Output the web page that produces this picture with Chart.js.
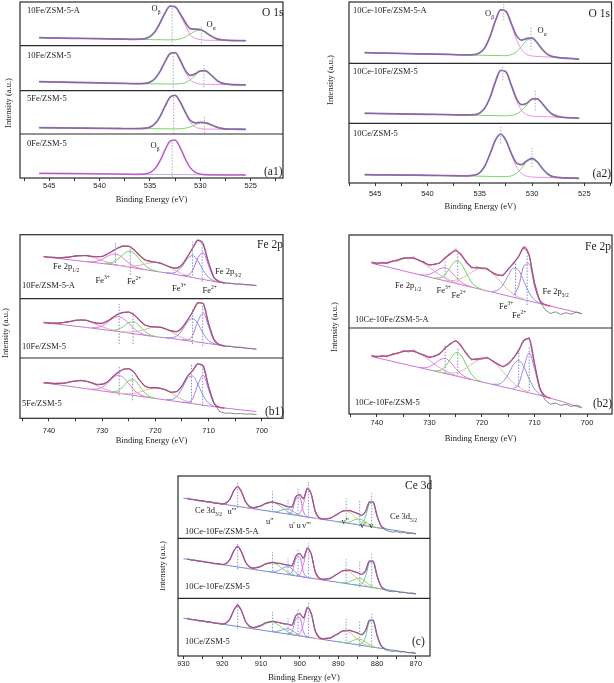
<!DOCTYPE html>
<html>
<head>
<meta charset="utf-8">
<script src="https://cdn.jsdelivr.net/npm/chart.js@4.4.1/dist/chart.umd.min.js"></script>
<style>
html, body { margin: 0; padding: 0; background: #fff; }
#wrap { position: relative; width: 614px; height: 683px; overflow: hidden; }
canvas { position: absolute; left: 0; top: 0; }
.t { position: absolute; font-family: 'Liberation Serif', serif; font-size: 8.5px; color: #222; white-space: nowrap; line-height: 1; }
.big { font-size: 11.5px; }
.t sub, .t sup { font-size: 5.5px; line-height: 0; }
.yl { position: absolute; font-family: 'Liberation Serif', serif; font-size: 8.5px; color: #222; white-space: nowrap; transform: translate(-50%, -50%) rotate(-90deg); }
#clipC { position: absolute; left: 160px; top: 460px; width: 454px; height: 223px; overflow: hidden; }
</style>
</head>
<body>
<div id="wrap">
<canvas id="cA1" width="614" height="683"></canvas>
<canvas id="cA2" width="614" height="683"></canvas>
<canvas id="cB1" width="614" height="683"></canvas>
<canvas id="cB2" width="614" height="683"></canvas>
<canvas id="cC" width="614" height="683"></canvas>

<!-- a1 -->
<div class="t" style="left:27px;top:5.7px">10Fe/ZSM-5-A</div>
<div class="t" style="left:27px;top:50.7px">10Fe/ZSM-5</div>
<div class="t" style="left:27px;top:94px">5Fe/ZSM-5</div>
<div class="t" style="left:27px;top:139px">0Fe/ZSM-5</div>
<div class="t big" style="left:262px;top:6.5px">O 1s</div>
<div class="t" style="left:151.5px;top:4px">O<sub>β</sub></div>
<div class="t" style="left:206.5px;top:19.7px">O<sub>α</sub></div>
<div class="t" style="left:150.5px;top:140.7px">O<sub>β</sub></div>
<div class="t big" style="left:264px;top:166px">(a1)</div>
<div class="yl" style="left:8px;top:103px">Intensity (a.u.)</div>

<!-- a2 -->
<div class="t" style="left:353px;top:5.7px">10Ce-10Fe/ZSM-5-A</div>
<div class="t" style="left:353px;top:66.7px">10Ce-10Fe/ZSM-5</div>
<div class="t" style="left:353px;top:129px">10Ce/ZSM-5</div>
<div class="t big" style="left:588.5px;top:7.5px">O 1s</div>
<div class="t" style="left:485px;top:9px">O<sub>β</sub></div>
<div class="t" style="left:537.5px;top:25.7px">O<sub>α</sub></div>
<div class="t big" style="left:592.5px;top:167.5px">(a2)</div>
<div class="yl" style="left:330px;top:80px">Intensity (a.u.)</div>

<!-- b1 -->
<div class="t big" style="left:257px;top:239.2px">Fe 2p</div>
<div class="t" style="left:53px;top:262.4px">Fe 2p<sub>1/2</sub></div>
<div class="t" style="left:95.5px;top:275.7px">Fe<sup>3+</sup></div>
<div class="t" style="left:127px;top:277.4px">Fe<sup>2+</sup></div>
<div class="t" style="left:172px;top:284px">Fe<sup>3+</sup></div>
<div class="t" style="left:202.5px;top:286.4px">Fe<sup>2+</sup></div>
<div class="t" style="left:215px;top:267.4px">Fe 2p<sub>3/2</sub></div>
<div class="t" style="left:22px;top:280.7px">10Fe/ZSM-5-A</div>
<div class="t" style="left:22px;top:342.4px">10Fe/ZSM-5</div>
<div class="t" style="left:22px;top:399px">5Fe/ZSM-5</div>
<div class="t big" style="left:265px;top:406px">(b1)</div>
<div class="yl" style="left:5px;top:333px">Intensity (a.u.)</div>

<!-- b2 -->
<div class="t big" style="left:585px;top:241px">Fe 2p</div>
<div class="t" style="left:395px;top:280.7px">Fe 2p<sub>1/2</sub></div>
<div class="t" style="left:436.5px;top:285.7px">Fe<sup>3+</sup></div>
<div class="t" style="left:451.5px;top:290.7px">Fe<sup>2+</sup></div>
<div class="t" style="left:499px;top:301.7px">Fe<sup>3+</sup></div>
<div class="t" style="left:512px;top:310.7px">Fe<sup>2+</sup></div>
<div class="t" style="left:542.5px;top:287.4px">Fe 2p<sub>3/2</sub></div>
<div class="t" style="left:355px;top:315px">10Ce-10Fe/ZSM-5-A</div>
<div class="t" style="left:355px;top:398.4px">10Ce-10Fe/ZSM-5</div>
<div class="t big" style="left:593px;top:397.5px">(b2)</div>
<div class="yl" style="left:334px;top:327px">Intensity (a.u.)</div>

<!-- c -->
<div class="t big" style="left:405px;top:480.2px">Ce 3d</div>
<div class="t" style="left:195px;top:505.7px">Ce 3d<sub>3/2</sub></div>
<div class="t" style="left:227.5px;top:507.4px">u'''</div>
<div class="t" style="left:266px;top:517.4px">u''</div>
<div class="t" style="left:289px;top:520.7px">u'</div>
<div class="t" style="left:296.5px;top:520.7px">u</div>
<div class="t" style="left:302px;top:520.7px">v'''</div>
<div class="t" style="left:341.5px;top:517.4px">v''</div>
<div class="t" style="left:360px;top:520.7px">v'</div>
<div class="t" style="left:369px;top:520.7px">v</div>
<div class="t" style="left:390px;top:512.4px">Ce 3d<sub>5/2</sub></div>
<div class="t" style="left:185px;top:527.4px">10Ce-10Fe/ZSM-5-A</div>
<div class="t" style="left:185px;top:581.7px">10Ce-10Fe/ZSM-5</div>
<div class="t" style="left:185px;top:637.4px">10Ce/ZSM-5</div>
<div class="t big" style="left:412px;top:636px">(c)</div>
<div id="clipC"><div class="yl" style="left:2px;top:106px">Intensity (a.u.)</div></div>
</div>

<script>
// ---------- O 1s (binding energy grid, eV) ----------
const oE = [546, 544, 542, 540, 538, 536.5, 535.5, 535, 534.5, 534, 533.5, 533, 532.5, 532, 531.5, 531, 530.5, 530, 529.5, 529, 528.5, 528, 527, 526, 525.5];

// a1: 10Fe/ZSM-5-A, 10Fe/ZSM-5, 5Fe/ZSM-5, 0Fe/ZSM-5
const a1Fit1 = [8, 7.6, 7.3, 7, 6.7, 6.4, 7.1, 9.2, 14.1, 22.8, 32.9, 39.6, 38.9, 31.8, 23.5, 17.0, 16.5, 16.1, 13.5, 10.1, 7.4, 6.0, 5.2, 5.1, 5];
const a1Ob1 = [8, 7.6, 7.3, 7, 6.7, 6.4, 7.1, 9.2, 14.1, 22.8, 32.9, 39.6, 38.8, 30.7, 20.5, 10.9, 7.4, 6.2, 5.5, 5.4, 5.3, 5.3, 5.2, 5.1, 5];
const a1Oa1 = [8, 7.6, 7.3, 7, 6.7, 6.4, 6.2, 6.1, 6, 6, 5.9, 5.8, 5.9, 6.8, 8.7, 11.7, 14.7, 15.4, 13.4, 10.1, 7.4, 6.0, 5.2, 5.1, 5];
const a1Fit2 = [9, 8.6, 8.2, 7.8, 7.4, 7.0, 7.3, 8.6, 12.1, 19.3, 29.1, 37.1, 38.0, 30.4, 20.5, 15.3, 16.8, 19.8, 19.95, 16.3, 11.45, 8.1, 6.2, 5.9, 5.7];
const a1Ob2 = [9, 8.6, 8.2, 7.8, 7.4, 7.0, 7.3, 8.6, 12.1, 19.3, 29.1, 37.1, 38.0, 30.0, 19.0, 11.0, 7.8, 6.6, 6.35, 6.3, 6.25, 6.2, 6.1, 5.9, 5.7];
const a1Oa2 = [9, 8.6, 8.2, 7.8, 7.4, 7.0, 6.95, 6.9, 6.85, 6.8, 6.75, 6.7, 6.65, 7.0, 8.05, 10.8, 15.45, 19.6, 19.95, 16.3, 11.45, 8.1, 6.2, 5.9, 5.7];
const a1Fit3 = [6.3, 6.1, 5.9, 5.7, 5.5, 5.4, 5.75, 6.9, 10.3, 17.55, 27.8, 36.8, 38.55, 32.0, 22.0, 13.55, 11.2, 11.6, 11.25, 9.5, 7.3, 5.75, 4.8, 4.75, 4.7];
const a1Ob3 = [6.3, 6.1, 5.9, 5.7, 5.5, 5.4, 5.75, 6.9, 10.3, 17.55, 27.8, 36.8, 38.55, 31.8, 21.3, 11.55, 7.0, 5.5, 4.95, 4.9, 4.9, 4.85, 4.8, 4.75, 4.7];
const a1Oa3 = [6.3, 6.1, 5.9, 5.7, 5.5, 5.4, 5.35, 5.3, 5.3, 5.25, 5.2, 5.2, 5.15, 5.3, 5.8, 7.05, 9.2, 11.1, 11.25, 9.5, 7.3, 5.75, 4.8, 4.75, 4.7];
const a1Ob4 = [4.7, 4.5, 4.3, 4.1, 3.9, 3.7, 4.0, 5.5, 9.35, 17.25, 28.1, 36.85, 37.8, 30.2, 19.15, 10.3, 5.7, 3.85, 3.3, 3.2, 3.15, 3.1, 3.1, 3.05, 3];
const a1Base4 = [[536.5, 3.7], [525.5, 3.0]];

// a2: 10Ce-10Fe/ZSM-5-A, 10Ce-10Fe/ZSM-5, 10Ce/ZSM-5
const a2Fit1 = [10.6, 10.1, 9.7, 9.3, 8.9, 8.4, 8.7, 10.5, 15.9, 27.2, 42.6, 53.5, 52.1, 40.3, 27.9, 23.2, 24.8, 25.3, 20.4, 13.6, 8.7, 6.6, 5.3, 4.6, 4.0];
const a2Ob1 = [10.6, 10.1, 9.7, 9.3, 8.9, 8.4, 8.7, 10.5, 15.9, 27.2, 42.6, 53.5, 52.1, 39.2, 24.0, 13.7, 8.9, 7.4, 6.8, 6.6, 6.3, 6.0, 5.3, 4.6, 4.0];
const a2Oa1 = [10.6, 10.1, 9.7, 9.3, 8.9, 8.4, 8.2, 8.1, 8.0, 7.9, 7.8, 7.7, 7.6, 8.6, 11.3, 16.8, 23.0, 24.9, 20.4, 13.6, 8.7, 6.6, 5.3, 4.6, 4.0];
const a2Fit2 = [10, 9.6, 9.3, 9.0, 8.7, 8.3, 8.6, 10.3, 15.5, 26.3, 41.7, 52.9, 51.5, 38.7, 25.0, 18.6, 20.1, 24.2, 24.4, 19.5, 13.2, 8.7, 5.9, 5.4, 5.0];
const a2Ob2 = [10, 9.6, 9.3, 9.0, 8.7, 8.3, 8.6, 10.3, 15.5, 26.3, 41.7, 52.9, 51.5, 38.2, 23.1, 13.0, 8.6, 7.3, 6.9, 6.7, 6.5, 6.3, 5.8, 5.4, 5.0];
const a2Oa2 = [10, 9.6, 9.3, 9.0, 8.7, 8.3, 8.1, 8.0, 7.9, 7.8, 7.7, 7.6, 7.5, 7.9, 9.2, 12.8, 18.6, 23.9, 24.4, 19.5, 13.2, 8.7, 5.9, 5.4, 5.0];
const a2Fit3 = [8.3, 8.1, 7.9, 7.7, 7.4, 7.1, 7.8, 10.4, 17.3, 29.6, 42.9, 48.9, 42.7, 30.1, 20.2, 18.4, 22.2, 24.5, 21.1, 14.4, 9.0, 6.3, 5.2, 4.9, 4.7];
const a2Ob3 = [8.3, 8.1, 7.9, 7.7, 7.4, 7.1, 7.8, 10.4, 17.3, 29.6, 42.9, 48.9, 42.7, 29.2, 16.7, 9.6, 6.8, 6.0, 5.7, 5.6, 5.5, 5.4, 5.2, 4.9, 4.7];
const a2Oa3 = [8.3, 8.1, 7.9, 7.7, 7.4, 7.1, 6.9, 6.8, 6.7, 6.6, 6.5, 6.4, 6.3, 7.1, 9.6, 14.8, 21.3, 24.3, 21.1, 14.4, 9.0, 6.3, 5.2, 4.9, 4.7];

// ---------- Fe 2p ----------
const feE = [741, 740, 739, 738, 737, 736, 735, 734, 733, 732, 731, 730, 729, 728, 727, 726, 725, 724, 723, 722, 721, 720, 719, 718, 717, 716, 715, 714, 713, 712, 711, 710, 709, 708, 707, 706, 705, 704, 703, 702, 701];

// b1 top: 10Fe/ZSM-5-A
const b1Data1 = [42.4, 41.2, 41.6, 40.6, 41.5, 41.5, 43.0, 42.8, 43.5, 42.1, 42.3, 42.0, 45.0, 47.5, 51.0, 52.4, 52.8, 48.6, 43.8, 38.8, 37.6, 36.3, 35.7, 33.2, 31.5, 30.8, 33.5, 41.9, 50.2, 58.8, 54.5, 36.4, 21.2, 17.4, 15.4, 15.6, 14.6, 14.9, 14.0, 13.8, 13.1];
const b1Fit1 = [42, 41.5, 41.1, 40.9, 41.2, 41.8, 42.7, 43.1, 43.1, 42.4, 41.9, 42.3, 44.7, 47.8, 50.7, 52.7, 52.3, 49.0, 43.4, 39.1, 37.2, 36.6, 35.4, 33.4, 31.1, 30.5, 33.9, 41.6, 50.6, 58.5, 54.8, 36.1, 21.5, 17.1, 15.9];
const b1Base1 = [[741, 42], [737, 39.5], [733, 37], [727, 33.4], [722, 29], [717, 25], [713, 21.2], [708.5, 16.7], [705, 14.8], [701, 13.2]];
const b1Sat1a = [[740, 41.5], [738, 40.9], [736, 41.8], [735, 42.7], [734, 43.1], [733, 43.0], [732, 41.9], [731, 40.2], [730, 38.1], [728, 34.8], [726, 32.6]];
const b1Fe3b1 = [[733, 37.1], [732, 36.9], [731, 37.5], [730, 39.4], [729, 42.4], [728, 44.6], [727, 44.0], [726, 40.3], [725, 35.8], [724, 32.5], [723, 30.4], [722, 29.1]];
const b1Fe2b1 = [[729.5, 35.2], [728, 36.4], [727, 39.8], [726, 44.5], [725, 47.4], [724, 45.5], [723, 39.6], [722, 33.5], [721, 29.7], [719.5, 27.1]];
const b1Sat2a = [[726, 32.8], [725, 32.4], [724, 32.6], [723, 33.3], [722, 34.5], [721, 35.7], [720, 36.2], [719, 35.4], [718, 33.3], [717, 30.5], [716, 27.5], [715, 24.9], [714, 23.0], [713, 21.5]];
const b1Fe3a1 = [[718, 25.9], [717, 25.6], [716, 27.1], [715, 32.1], [714, 39.8], [713, 43.2], [712, 37.8], [711, 28.3], [710, 21.3], [709, 17.9], [708, 16.5]];
const b1Fe2a1 = [[715, 23.1], [714, 23.2], [713, 28.3], [712, 40.9], [711, 45.9], [710, 33.2], [709, 20.9], [708, 16.8], [707, 15.9]];

// b1 middle: 10Fe/ZSM-5
const b1Data2 = [35.6, 34.6, 35.1, 34.7, 35.9, 36.4, 37.9, 37.8, 37.9, 35.8, 34.9, 34.5, 37.3, 40.3, 44.1, 45.4, 46.2, 42.9, 38.2, 32.9, 31.7, 30.9, 31.0, 28.7, 27.3, 26.1, 30.3, 37.4, 46.2, 55.0, 54.8, 34.5, 18.9, 13.2, 11.4, 11.8, 10.6, 10.9, 9.8, 9.6, 8.8];
const b1Fit2 = [35.5, 35.0, 34.8, 35.0, 35.6, 36.6, 37.6, 38.1, 37.6, 36.1, 34.7, 34.8, 37.0, 40.6, 43.8, 45.7, 45.9, 43.2, 37.8, 33.2, 31.4, 31.2, 30.7, 29.0, 27.0, 26.4, 30.0, 37.7, 45.9, 55.3, 54.5, 34.8, 18.5, 13.5, 12.3];
const b1Base2 = [[741, 35.4], [733, 30.6], [727, 26.5], [721, 22], [717, 19.5], [713, 16.6], [710, 14.4], [708, 13], [705, 11], [701, 8.8]];
const b1Sat1b = [[740, 35.0], [738, 35.0], [736, 36.6], [735, 37.6], [734, 38.1], [733, 37.5], [732, 35.7], [731, 33.4], [730, 31.2], [728, 27.8], [726, 25.8]];
const b1Fe3b2 = [[732, 30.3], [731, 30.5], [730, 32.2], [729, 35.6], [728, 39.5], [727, 41.4], [726, 39.4], [725, 34.6], [724, 29.3], [723, 25.5], [722, 23.3], [721, 22.1]];
const b1Fe2b2 = [[728, 27.7], [727, 28.6], [726, 31.5], [725, 35.4], [724, 36.1], [723, 32.2], [722, 26.8], [721, 23.2], [720, 21.6]];
const b1Sat2b = [[727, 26.6], [726, 26.1], [725, 25.9], [724, 26.2], [723, 27.1], [722, 28.5], [721, 30.1], [720, 31.0], [719, 30.7], [718, 28.9], [717, 26.3], [716, 23.3], [715, 20.5], [714, 18.6], [713, 17.1], [712, 16.1]];
const b1Fe3a2 = [[718, 20.2], [717, 20.2], [716, 21.9], [715, 27.5], [714, 35.7], [713, 39.6], [712, 34.3], [711, 24.6], [710, 17.5], [709, 14.4], [708, 13.1]];
const b1Fe2a2 = [[715, 18.0], [714, 18.0], [713, 22.4], [712, 36.7], [711, 45.0], [710, 31.7], [709, 17.8], [708, 13.4], [707, 12.3]];

// b1 bottom: 5Fe/ZSM-5
const b1Data3 = [35.2, 35.6, 34.4, 35.3, 35.0, 36.9, 37.0, 38.2, 36.8, 35.8, 33.5, 34.3, 36.3, 41.8, 45.6, 49.2, 49.3, 46.3, 38.1, 32.7, 30.3, 30.9, 29.6, 28.6, 25.8, 27.0, 32.2, 41.9, 47.5, 54.6, 52.2, 31.9, 15.8, 7.2, 5.0, 5.3, 4.5, 4.8, 4.1, 4.4, 3.7];
const b1Fit3 = [35.7, 35.15, 34.8, 34.85, 35.4, 36.45, 37.4, 37.75, 37.1, 35.45, 33.9, 33.85, 36.6, 41.45, 45.9, 48.85, 49.6, 45.95, 38.4, 32.35, 30.6, 30.55, 30.0, 28.25, 26.1, 26.65, 32.5, 41.55, 47.8, 54.35, 52.5, 31.7, 15.5, 11.2, 10.3];
const b1Base3 = [[741, 35.6], [733, 29.6], [727, 25.1], [721, 20.6], [717, 17.6], [713, 14.6], [710, 12.4], [708, 10.9], [704, 8.5], [701, 6.8]];
const b1Sat1c = [[740, 35.15], [738, 34.85], [736, 36.45], [735, 37.4], [734, 37.75], [733, 37.0], [732, 35.15], [731, 32.7], [730, 30.15], [728, 26.55], [726, 24.45]];
const b1Fe3b3 = [[732, 29.15], [731, 29.3], [730, 31.05], [729, 35.1], [728, 40.25], [727, 43.0], [726, 40.65], [725, 34.5], [724, 28.25], [723, 24.0], [722, 21.85], [721, 20.7]];
const b1Fe2b3 = [[728, 26.35], [727, 27.6], [726, 32.05], [725, 37.7], [724, 38.45], [723, 32.5], [722, 25.45], [721, 21.6], [720, 19.95]];
const b1Sat2c = [[727, 25.2], [726, 24.75], [725, 24.6], [724, 24.95], [723, 26.1], [722, 27.75], [721, 29.5], [720, 30.45], [719, 30.0], [718, 28.05], [717, 25.0], [716, 21.75], [715, 18.9], [714, 16.75], [713, 15.2], [712, 14.05]];
const b1Fe3a3 = [[718, 18.55], [717, 18.7], [716, 21.75], [715, 29.7], [714, 39.65], [713, 42.3], [712, 34.15], [711, 22.6], [710, 15.3], [709, 12.2], [708, 11.0]];
const b1Fe2a3 = [[715, 16.1], [714, 15.85], [713, 19.5], [712, 33.85], [711, 43.0], [710, 28.8], [709, 14.9], [708, 11.1], [707, 10.3]];

// b2 top: 10Ce-10Fe/ZSM-5-A
const b2Data1 = [66.2, 63.8, 65.9, 64.2, 67.5, 67.0, 70.4, 69.2, 71.0, 67.1, 66.2, 62.4, 64.3, 64.6, 71.0, 73.5, 79.2, 72.6, 67.1, 59.8, 61.2, 59.0, 60.1, 54.4, 53.7, 51.9, 59.5, 63.8, 72.4, 80.2, 73.4, 45.6, 26.8, 18.4, 14.5, 16.2, 13.6, 15.3, 13.8, 16.0, 14.2];
const b2Fit1 = [65.5, 64.9, 64.9, 65.4, 66.7, 68.2, 69.5, 70.3, 69.7, 68.0, 65.3, 63.3, 63.4, 65.5, 69.8, 74.6, 77.2, 73.7, 66.0, 61.0, 60.0, 60.1, 58.7, 55.6, 52.6, 53.2, 58.6, 65.0, 71.5, 81.1, 72.2, 44.5, 27.9, 23.4, 22.0];
const b2Base1 = [[741, 64.8], [725, 44.6], [709, 24.5], [701, 14.4]];
const b2Sat1a = [[741, 65.5], [739, 64.9], [737, 66.7], [735, 69.5], [734, 70.3], [733, 69.7], [732, 67.8], [731, 64.5], [729, 56.6], [727, 49.8], [725, 45.3], [723, 42.1]];
const b2Fe3b1 = [[732, 53.7], [731, 53.0], [730, 53.6], [729, 56.2], [728, 59.3], [727, 60.2], [726, 56.8], [725, 51.1], [724, 46.1], [723, 42.9], [722, 41.1]];
const b2Fe2b1 = [[729, 50.0], [728, 50.2], [727, 53.6], [726, 60.8], [725, 66.8], [724, 64.6], [723, 55.1], [722, 46.0], [721, 40.9], [720, 38.5]];
const b2Sat2a = [[727, 47.8], [726, 47.4], [725, 47.8], [724, 49.5], [723, 52.2], [722, 55.7], [721, 58.7], [720, 59.9], [719, 58.7], [718, 54.9], [717, 49.4], [716, 43.4], [715, 38.1], [714, 34.0], [713, 31.0], [712, 28.9]];
const b2Fe3a1 = [[718, 36.5], [717, 37.8], [716, 43.1], [715, 52.5], [714, 59.9], [713, 57.5], [712, 46.5], [711, 35.0], [710, 28.1], [709, 25.0], [708, 23.2]];
const b2Fe2a1 = [[714, 32.7], [713, 42.0], [712, 62.3], [711, 64.2], [710, 42.1], [709, 27.4], [708, 23.4], [707, 22.0]];

// b2 bottom: 10Ce-10Fe/ZSM-5
const b2Data2 = [58.9, 56.4, 58.8, 57.1, 60.4, 60.2, 63.5, 62.0, 64.1, 60.2, 59.4, 56.1, 58.5, 59.6, 66.8, 69.5, 74.0, 67.4, 61.5, 53.9, 55.6, 54.7, 57.0, 52.4, 50.6, 46.8, 50.8, 55.2, 64.5, 73.2, 76.4, 49.6, 25.4, 14.2, 9.8, 11.0, 8.6, 9.7, 7.5, 8.9, 6.7];
const b2Fit2 = [58.1, 57.6, 57.6, 58.2, 59.5, 61.1, 62.4, 63.2, 62.7, 61.0, 58.5, 57.0, 57.6, 60.8, 65.5, 70.4, 72.8, 68.7, 60.4, 55.2, 54.5, 55.8, 55.8, 53.4, 49.7, 47.6, 49.9, 56.3, 63.4, 74.0, 75.5, 50.8, 26.5, 18.2, 15.9];
const b2Base2 = [[741, 57.4], [709, 18.7], [705, 12.9], [701, 6.0]];
const b2Sat1b = [[741, 58.1], [739, 57.6], [737, 59.5], [735, 62.4], [734, 63.2], [733, 62.7], [732, 60.8], [731, 57.6], [729, 49.8], [727, 43.1], [725, 38.7], [723, 35.6]];
const b2Fe3b2 = [[732, 46.7], [731, 46.2], [730, 47.3], [729, 50.4], [728, 54.3], [727, 55.5], [726, 51.9], [725, 45.5], [724, 40.0], [723, 36.5], [722, 34.6]];
const b2Fe2b2 = [[729, 43.2], [728, 43.5], [727, 47.2], [726, 54.8], [725, 61.2], [724, 59.0], [723, 49.2], [722, 39.8], [721, 34.5], [720, 32.2]];
const b2Sat2b = [[728, 42.0], [727, 41.2], [726, 40.9], [725, 41.4], [724, 43.0], [723, 45.9], [722, 49.6], [721, 53.2], [720, 55.6], [719, 55.8], [718, 53.2], [717, 48.4], [716, 42.4], [715, 36.2], [714, 30.9], [713, 26.9], [712, 23.9], [711, 21.8]];
const b2Fe3a2 = [[718, 29.8], [717, 29.7], [716, 32.4], [715, 39.6], [714, 49.4], [713, 53.5], [712, 47.0], [711, 34.8], [710, 25.1], [709, 20.0], [708, 17.5]];
const b2Fe2a2 = [[714, 25.4], [713, 30.0], [712, 47.7], [711, 61.1], [710, 45.3], [709, 25.2], [708, 18.0], [707, 15.9]];

// ---------- Ce 3d ----------
const ceE = [929, 928, 927, 926, 925, 924, 923, 922, 921, 920, 919, 918, 917, 916, 915, 914, 913, 912, 911, 910, 909, 908, 907, 906, 905, 904, 903, 902, 901, 900, 899, 898, 897, 896, 895, 894, 893, 892, 891, 890, 889, 888, 887, 886, 885, 884, 883, 882, 881, 880, 879, 878, 877, 876, 875, 874, 873, 872, 871, 870];

// c top: 10Ce-10Fe/ZSM-5-A
const cData1 = [40.3, 38.6, 38.9, 37.2, 37.8, 36.1, 36.8, 35.0, 35.3, 34.0, 35.6, 38.7, 47.9, 51.6, 46.8, 36.2, 32.4, 30.2, 31.6, 32.0, 34.9, 35.3, 36.8, 34.9, 34.6, 32.5, 31.8, 30.8, 42.0, 43.3, 39.9, 49.8, 44.7, 27.0, 20.9, 18.9, 19.9, 19.8, 22.8, 24.3, 27.5, 27.4, 28.1, 25.9, 25.0, 22.6, 27.0, 36.1, 36.6, 21.8, 12.0, 8.6, 7.2, 6.1, 6.8, 5.5, 5.9, 4.6, 5.2, 4.1];
const cFit1 = [39.6, 39.1, 38.5, 37.9, 37.3, 36.7, 36.1, 35.5, 34.9, 34.5, 35.1, 39.2, 47.4, 52.0, 46.3, 36.9, 31.9, 30.7, 31.1, 32.5, 34.3, 35.8, 36.2, 35.4, 34.1, 33.0, 31.5, 31.4, 41.5, 43.8, 39.4, 50.2, 44.2, 27.3, 20.4, 19.5, 19.5, 20.4, 22.3, 24.8, 27.0, 27.9, 27.5, 26.4, 24.6, 23.0, 26.5, 36.5, 36.1, 22.4, 12.5, 9.7];
const cBase1 = [[930, 40.2], [870, 4.7]];
const cU3a = [[921, 34.9], [920, 34.5], [919, 35.1], [918, 39.2], [917, 47.4], [916, 52.0], [915, 46.3], [914, 36.9], [913, 31.6], [912, 29.8], [911, 29.0]];
const cU2a = [[914, 30.8], [913, 30.5], [912, 30.5], [911, 31.1], [910, 32.5], [909, 34.3], [908, 35.8], [907, 36.1], [906, 34.7], [905, 32.0], [904, 29.0], [903, 26.4], [902, 24.6], [901, 23.4], [900, 22.5]];
const cU1a = [[908, 27.2], [907, 26.7], [906, 26.8], [905, 27.6], [904, 28.9], [903, 29.3], [902, 27.7], [901, 25.2], [900, 23.2], [899, 22.0], [898, 21.3]];
const cU0a = [[903, 24.4], [902, 26.5], [901, 39.0], [900, 41.0], [899, 26.4], [898, 21.5], [897, 20.7]];
const cV3a = [[901, 23.2], [900, 24.6], [899, 34.8], [898, 50.0], [897, 44.2], [896, 27.3], [895, 20.4], [894, 19.1], [893, 18.4]];
const cV2a = [[896, 20.2], [895, 19.6], [894, 19.4], [893, 19.5], [892, 20.4], [891, 22.3], [890, 24.8], [889, 26.9], [888, 27.4], [887, 25.7], [886, 22.5], [885, 18.8], [884, 15.7], [883, 13.6], [882, 12.3], [881, 11.3]];
const cV1a = [[890, 16.6], [889, 16.1], [888, 15.9], [887, 16.6], [886, 18.2], [885, 19.4], [884, 18.8], [883, 16.4], [882, 13.7], [881, 11.8], [880, 10.8], [879, 10.1]];
const cV0a = [[886, 14.3], [885, 13.8], [884, 14.7], [883, 21.5], [882, 34.3], [881, 35.6], [880, 22.3], [879, 12.5], [878, 9.7], [877, 8.9]];

// c middle: 10Ce-10Fe/ZSM-5
const cData2 = [39.6, 38.1, 38.3, 36.8, 37.2, 35.6, 36.0, 34.3, 34.8, 33.4, 35.0, 38.4, 47.9, 51.8, 46.7, 36.0, 32.0, 29.8, 31.2, 31.6, 34.4, 34.8, 36.4, 34.8, 35.1, 33.5, 33.7, 31.9, 42.5, 44.5, 40.5, 49.8, 44.8, 26.6, 20.6, 18.6, 19.7, 19.6, 22.9, 24.6, 27.8, 27.7, 28.5, 26.4, 25.8, 23.5, 27.7, 37.0, 37.5, 21.9, 11.5, 8.3, 7.0, 6.6, 6.9, 5.6, 6.1, 5.0, 5.4, 4.6];
const cFit2 = [39.0, 38.5, 37.9, 37.3, 36.7, 36.1, 35.5, 34.9, 34.3, 33.9, 34.6, 38.9, 47.4, 52.2, 46.2, 36.6, 31.5, 30.3, 30.7, 32.0, 33.8, 35.3, 35.8, 35.3, 34.6, 34.0, 33.2, 32.4, 42.0, 45.0, 40.0, 50.3, 44.2, 27.0, 20.0, 19.1, 19.2, 20.2, 22.4, 25.0, 27.3, 28.2, 27.9, 26.9, 25.3, 24.0, 27.2, 37.4, 37.0, 22.5, 12.2, 9.2];
const cBase2 = [[930, 39.6], [870, 4.1]];
const cU3b = [[921, 34.3], [920, 33.9], [919, 34.6], [918, 38.8], [917, 47.0], [916, 51.9], [915, 46.0], [914, 36.4], [913, 31.0], [912, 29.2], [911, 28.4]];
const cU2b = [[914, 30.2], [913, 29.9], [912, 29.9], [911, 30.5], [910, 31.9], [909, 33.7], [908, 35.2], [907, 35.5], [906, 34.1], [905, 31.4], [904, 28.4], [903, 25.8], [902, 24.0], [901, 22.8], [900, 21.9]];
const cU1b = [[908, 26.7], [907, 26.4], [906, 27.0], [905, 28.6], [904, 30.9], [903, 31.6], [902, 29.5], [901, 25.7], [900, 22.6], [899, 21.5], [898, 20.7]];
const cU0b = [[903, 23.8], [902, 26.1], [901, 39.2], [900, 41.4], [899, 26.0], [898, 20.9], [897, 20.1]];
const cV3b = [[901, 22.6], [900, 24.0], [899, 34.2], [898, 49.5], [897, 43.7], [896, 26.7], [895, 19.8], [894, 18.5], [893, 17.8]];
const cV2b = [[896, 19.6], [895, 19.1], [894, 19.0], [893, 19.3], [892, 20.4], [891, 22.5], [890, 25.1], [889, 27.1], [888, 27.6], [887, 25.9], [886, 22.8], [885, 19.0], [884, 15.6], [883, 13.3], [882, 11.8], [881, 10.7]];
const cV1b = [[890, 16.1], [889, 15.7], [888, 15.7], [887, 16.8], [886, 18.6], [885, 20.0], [884, 19.4], [883, 16.6], [882, 13.5], [881, 11.3], [880, 10.2], [879, 9.5]];
const cV0b = [[886, 13.7], [885, 13.2], [884, 14.3], [883, 21.6], [882, 35.2], [881, 36.4], [880, 22.3], [879, 12.1], [878, 9.2], [877, 8.3]];

// c bottom: 10Ce/ZSM-5
const cData3 = [37.9, 36.1, 36.6, 34.8, 35.4, 33.7, 34.4, 32.5, 33.0, 31.6, 33.3, 36.6, 46.3, 50.6, 45.5, 34.3, 30.3, 28.1, 29.7, 30.2, 33.2, 33.7, 35.3, 33.6, 33.5, 31.8, 32.1, 30.2, 40.6, 42.1, 38.3, 48.2, 43.2, 25.3, 19.0, 16.8, 17.9, 17.7, 20.7, 22.1, 25.3, 25.2, 25.9, 24.0, 23.3, 20.9, 25.7, 35.3, 36.1, 20.2, 10.0, 6.4, 5.3, 4.6, 5.1, 3.9, 4.4, 3.2, 3.8, 3.0];
const cFit3 = [37.2, 36.7, 36.1, 35.5, 34.9, 34.3, 33.7, 33.1, 32.5, 32.1, 32.8, 37.1, 45.8, 51.0, 45.0, 35.0, 29.8, 28.6, 29.2, 30.7, 32.6, 34.2, 34.7, 34.1, 33.0, 32.3, 31.6, 30.8, 40.1, 42.6, 37.8, 48.7, 42.7, 25.6, 18.5, 17.4, 17.5, 18.3, 20.2, 22.6, 24.8, 25.7, 25.4, 24.5, 22.8, 21.4, 25.2, 35.8, 35.6, 20.8, 10.6, 7.4];
const cBase3 = [[930, 37.8], [870, 2.3]];
const cU3c = [[921, 32.5], [920, 32.1], [919, 32.8], [918, 36.9], [917, 45.2], [916, 50.9], [915, 44.6], [914, 34.8], [913, 29.2], [912, 27.4], [911, 26.6]];
const cU2c = [[914, 28.4], [913, 28.1], [912, 28.1], [911, 28.7], [910, 30.1], [909, 31.9], [908, 33.4], [907, 33.7], [906, 32.3], [905, 29.6], [904, 26.6], [903, 24.0], [902, 22.2], [901, 21.0], [900, 20.1]];
const cU1c = [[908, 24.8], [907, 24.3], [906, 24.5], [905, 25.4], [904, 26.8], [903, 27.3], [902, 25.7], [901, 23.0], [900, 20.8], [899, 19.6], [898, 18.9]];
const cU0c = [[903, 22.0], [902, 24.1], [901, 36.6], [900, 38.6], [899, 24.0], [898, 19.1], [897, 18.3]];
const cV3c = [[901, 20.8], [900, 22.2], [899, 32.4], [898, 47.6], [897, 41.8], [896, 24.9], [895, 18.0], [894, 16.7], [893, 16.0]];
const cV2c = [[896, 17.8], [895, 17.2], [894, 17.0], [893, 17.1], [892, 18.0], [891, 19.9], [890, 22.4], [889, 24.5], [888, 25.0], [887, 23.3], [886, 20.1], [885, 16.4], [884, 13.3], [883, 11.2], [882, 9.9], [881, 8.9]];
const cV1c = [[890, 14.2], [889, 13.7], [888, 13.5], [887, 14.2], [886, 15.8], [885, 17.0], [884, 16.4], [883, 14.0], [882, 11.3], [881, 9.4], [880, 8.4], [879, 7.7]];
const cV0c = [[886, 11.9], [885, 11.4], [884, 12.3], [883, 19.1], [882, 33.9], [881, 35.2], [880, 19.9], [879, 10.1], [878, 7.3], [877, 6.5]];

// peak position markers [energy, from, to]
const a1Refs = [[[532.8, 0, 41], [529.9, 2.4, 19]], [[532.7, 0, 39], [529.65, 3.4, 25.7]], [[532.65, 0, 38.7], [529.6, 0.7, 17.3]], [[532.8, 1.3, 39.7]]];
const a2Refs = [[[532.7, 43, 61.3], [530.1, 13.3, 36.6]], [[532.8, 43, 58], [529.7, 13, 33]], [[533.0, 39.7, 56], [530.0, 16, 35]]];
const b1Refs = [[[727.5, 33, 56], [724.7, 24, 54], [713, 23, 57], [711.2, 17, 58]], [[726.8, 14, 54], [724.2, 14, 46], [713, 14, 49], [711.1, 12, 54]], [[726.8, 23, 53], [724.3, 18, 43], [713.2, 16, 55], [711.1, 12, 53]]];
const b2Refs = [[[727, 50, 66], [724.6, 46, 75], [713.6, 30, 68], [711.4, 23, 80]], [[727, 40, 70], [724.6, 40, 67], [713, 27, 62], [711, 23, 67]]];
const cRefs = [
  [[916, 30, 57], [907, 28, 47], [903, 25, 40], [900.4, 24, 50], [897.7, 22, 56], [888, 15, 40], [884.5, 12, 38], [881.4, 11, 45]],
  [[916, 29, 56], [907, 27, 46], [903, 24, 40], [900.4, 23, 49], [897.7, 21, 55], [888, 14, 39], [884.5, 11, 37], [881.4, 10, 44]],
  [[916, 27, 54], [907, 25, 44], [903, 22, 38], [900.4, 21, 47], [897.7, 19, 53], [888, 12, 37], [884.5, 9, 35], [881.4, 8, 42]]
];

// ---------- helpers ----------
function xy(xs, ys) { return ys.map((y, i) => ({x: xs[i], y: y})); }
function pr(a) { return a.map(p => ({x: p[0], y: p[1]})); }

const frame = {
  id: 'frame',
  afterDatasetsDraw(chart) {
    const ctx = chart.ctx, a = chart.chartArea;
    ctx.save();
    ctx.strokeStyle = '#2a2a2a';
    ctx.lineWidth = 1.2;
    ctx.strokeRect(a.left, a.top, a.right - a.left, a.bottom - a.top);
    Object.values(chart.scales).forEach(s => {
      if (s.axis === 'y' && s.top > a.top + 1) {
        ctx.beginPath();
        ctx.moveTo(a.left, s.top);
        ctx.lineTo(a.right, s.top);
        ctx.stroke();
      }
    });
    ctx.restore();
  }
};

function makePanel(id, p) {
  const scales = {
    x: {
      type: 'linear', reverse: true, min: p.xr[0], max: p.xr[1],
      afterFit: s => { s.height = p.axisH; },
      ticks: {
        stepSize: p.step, includeBounds: false, autoSkip: false, maxRotation: 0, maxTicksLimit: 100,
        padding: p.tickPad, color: '#222', font: {family: 'Liberation Sans', size: 7.5},
        callback: v => {
          const k = v / p.major;
          return Math.abs(k - Math.round(k)) < 1e-6 ? String(Math.round(v)) : '';
        }
      },
      grid: {display: true, drawOnChartArea: false, drawTicks: true, tickLength: 3, color: '#333'},
      border: {display: false},
      title: {display: true, text: 'Binding Energy (eV)', color: '#222', padding: 0,
        font: {family: 'Liberation Serif', size: 8.5}}
    }
  };
  const sets = [];
  p.subs.forEach((s, i) => {
    const ax = 'y' + i;
    scales[ax] = {
      type: 'linear', position: 'left', stack: 'v', stackWeight: s.h, weight: 10 - i,
      min: 0, max: s.h,
      ticks: {display: false}, grid: {display: false, drawTicks: false}, border: {display: false}
    };
    s.lines.forEach(l => sets.push({
      data: l[0], yAxisID: ax, borderColor: l[1], borderWidth: l[2], pointRadius: 0, fill: false,
      tension: l[3] ? 0.4 : 0, cubicInterpolationMode: l[3] ? 'monotone' : 'default'
    }));
    s.refs.forEach(r => sets.push({
      data: [{x: r[0], y: r[1]}, {x: r[0], y: r[2]}], yAxisID: ax, borderColor: p.refColor,
      borderWidth: 1, borderDash: [1.5, 1.5], pointRadius: 0, fill: false
    }));
  });
  sets.reverse(); // first listed = drawn underneath
  new Chart(id, {
    type: 'line',
    data: {datasets: sets},
    options: {
      responsive: false, animation: false, devicePixelRatio: 1,
      layout: {padding: p.pad},
      plugins: {legend: {display: false}, tooltip: {enabled: false}},
      scales: scales
    },
    plugins: [frame]
  });
}

const cOb = '#f08ee0', cOa = '#74d860', cGrey = '#8c8c98', cEnv = '#9450c0';
function oLines(fit, ob, oa) {
  return [[xy(oE, oa), cOa, 1, true], [xy(oE, ob), cOb, 1, true], [xy(oE, fit), cGrey, 1.8, true], [xy(oE, fit), cEnv, 0.9, true]];
}

makePanel('cA1', {
  xr: [521.8, 547.9], step: 2.5, major: 5, axisH: 27, tickPad: 0, refColor: '#a4abc8',
  pad: {left: 20, right: 331, top: 2, bottom: 478},
  subs: [
    {h: 43.7, lines: oLines(a1Fit1, a1Ob1, a1Oa1), refs: a1Refs[0]},
    {h: 45, lines: oLines(a1Fit2, a1Ob2, a1Oa2), refs: a1Refs[1]},
    {h: 43.3, lines: oLines(a1Fit3, a1Ob3, a1Oa3), refs: a1Refs[2]},
    {h: 44, lines: [[pr(a1Base4), '#b8b0e8', 1, false], [xy(oE, a1Ob4), cOb, 1.8, true], [xy(oE, a1Ob4), cEnv, 0.9, true]], refs: a1Refs[3]}
  ]
});

makePanel('cA2', {
  xr: [522.4, 547.5], step: 2.5, major: 5, axisH: 29, tickPad: 3.5, refColor: '#a4abc8',
  pad: {left: 349, right: 2, top: 2, bottom: 471},
  subs: [
    {h: 61.3, lines: oLines(a2Fit1, a2Ob1, a2Oa1), refs: a2Refs[0]},
    {h: 60, lines: oLines(a2Fit2, a2Ob2, a2Oa2), refs: a2Refs[1]},
    {h: 59.7, lines: oLines(a2Fit3, a2Ob3, a2Oa3), refs: a2Refs[2]}
  ]
});

function feLines(data, fit, base, sat1, f3b, f2b, sat2, f3a, f2a) {
  return [
    [pr(base), '#c878d0', 1, false],
    [pr(sat1), '#e89ad8', 1, true],
    [pr(f3b), '#e078d8', 1, true],
    [pr(f2b), '#68d848', 1, true],
    [pr(sat2), '#e0b8b0', 1, true],
    [pr(f3a), '#8890e0', 1, true],
    [pr(f2a), '#b078f0', 1, true],
    [xy(feE, fit), '#e04098', 1.3, true],
    [xy(feE, data), '#6c6c6c', 0.8, false]
  ];
}

makePanel('cB1', {
  xr: [696.0, 745.45], step: 5, major: 10, axisH: 27.5, tickPad: 5.5, refColor: '#8090c8',
  pad: {left: 20, right: 331, top: 234.7, bottom: 237.2},
  subs: [
    {h: 64, lines: feLines(b1Data1, b1Fit1, b1Base1, b1Sat1a, b1Fe3b1, b1Fe2b1, b1Sat2a, b1Fe3a1, b1Fe2a1), refs: b1Refs[0]},
    {h: 59.3, lines: feLines(b1Data2, b1Fit2, b1Base2, b1Sat1b, b1Fe3b2, b1Fe2b2, b1Sat2b, b1Fe3a2, b1Fe2a2), refs: b1Refs[1]},
    {h: 60.3, lines: feLines(b1Data3, b1Fit3, b1Base3, b1Sat1c, b1Fe3b3, b1Fe2b3, b1Sat2c, b1Fe3a3, b1Fe2a3), refs: b1Refs[2]}
  ]
});

makePanel('cB2', {
  xr: [695.25, 745.3], step: 5, major: 10, axisH: 29.4, tickPad: 1.2, refColor: '#8090c8',
  pad: {left: 349, right: 2, top: 235, bottom: 239.6},
  subs: [
    {h: 93, lines: feLines(b2Data1, b2Fit1, b2Base1, b2Sat1a, b2Fe3b1, b2Fe2b1, b2Sat2a, b2Fe3a1, b2Fe2a1), refs: b2Refs[0]},
    {h: 86, lines: feLines(b2Data2, b2Fit2, b2Base2, b2Sat1b, b2Fe3b2, b2Fe2b2, b2Sat2b, b2Fe3a2, b2Fe2a2), refs: b2Refs[1]}
  ]
});

function ceLines(data, fit, base, u3, u2, u1, u0, v3, v2, v1, v0) {
  return [
    [pr(base), '#7888d8', 1, false],
    [pr(u2), '#7cd860', 1, true],
    [pr(u1), '#8c9ae8', 1, true],
    [pr(u0), '#b478f0', 1, true],
    [pr(v2), '#d8c870', 1, true],
    [pr(v1), '#7cd860', 1, true],
    [pr(v0), '#58c8a8', 1, true],
    [pr(u3), '#e878d8', 1, true],
    [pr(v3), '#e878d8', 1, true],
    [xy(ceE, fit), '#d848b8', 1.3, true],
    [xy(ceE, data), '#6c6c6c', 0.8, false]
  ];
}

makePanel('cC', {
  xr: [866.35, 931.4], step: 5, major: 10, axisH: 27, tickPad: 0, refColor: '#8a9ad0',
  pad: {left: 178, right: 184, top: 476, bottom: 0},
  subs: [
    {h: 62.3, lines: ceLines(cData1, cFit1, cBase1, cU3a, cU2a, cU1a, cU0a, cV3a, cV2a, cV1a, cV0a), refs: cRefs[0]},
    {h: 60, lines: ceLines(cData2, cFit2, cBase2, cU3b, cU2b, cU1b, cU0b, cV3b, cV2b, cV1b, cV0b), refs: cRefs[1]},
    {h: 57.7, lines: ceLines(cData3, cFit3, cBase3, cU3c, cU2c, cU1c, cU0c, cV3c, cV2c, cV1c, cV0c), refs: cRefs[2]}
  ]
});
</script>
</body>
</html>
